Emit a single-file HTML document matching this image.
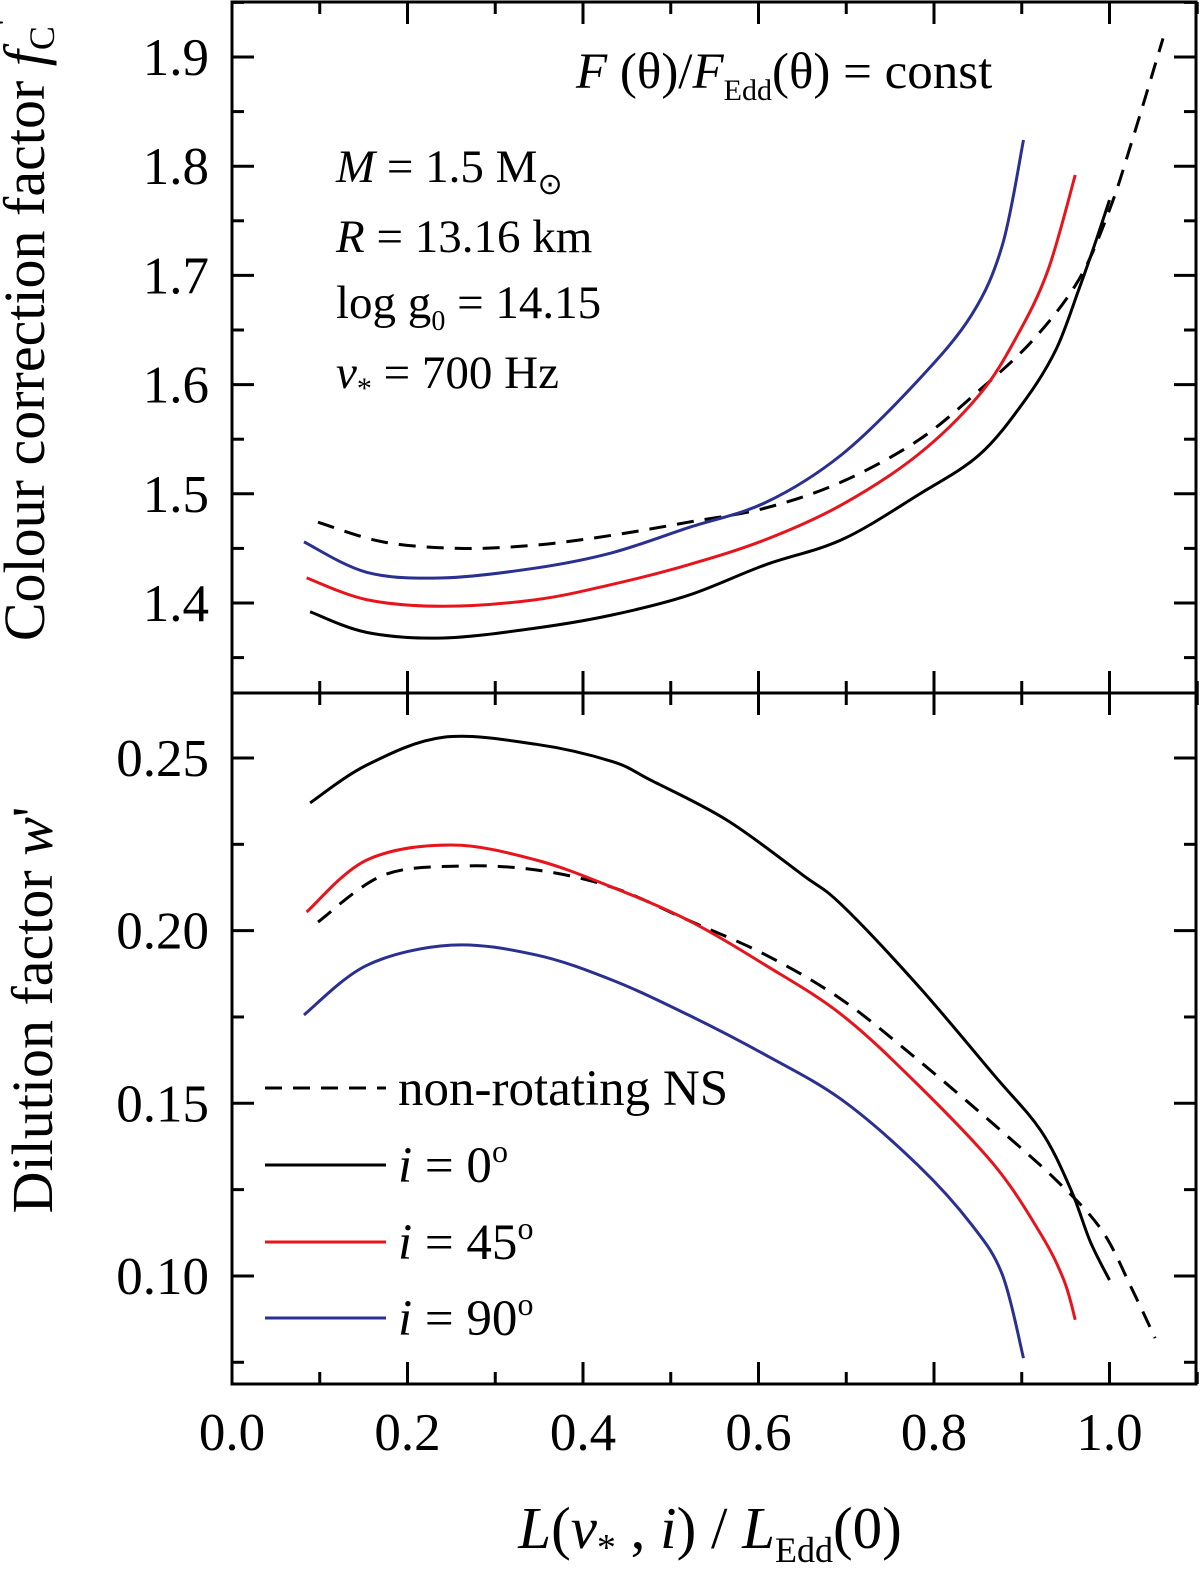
<!DOCTYPE html>
<html><head><meta charset="utf-8"><style>
html,body{margin:0;padding:0;background:#fff;}
svg{display:block;font-family:"Liberation Serif",serif;}
</style></head><body>
<svg id="chart" width="1200" height="1575" viewBox="0 0 1200 1575" xmlns="http://www.w3.org/2000/svg"></svg>
<script>
const xTicks=[0,0.2,0.4,0.6,0.8,1.0];
const xTickLabels=["0.0","0.2","0.4","0.6","0.8","1.0"];
const topTicks=[1.4,1.5,1.6,1.7,1.8,1.9];
const topTickLabels=["1.4","1.5","1.6","1.7","1.8","1.9"];
const botTicks=[0.10,0.15,0.20,0.25];
const botTickLabels=["0.10","0.15","0.20","0.25"];
// top panel series
const fcX0=[0.089,0.154,0.241,0.346,0.433,0.52,0.608,0.695,0.782,0.852,0.904,0.939,0.965,0.983,1.0];
const fcY0=[1.392,1.373,1.368,1.377,1.389,1.407,1.435,1.458,1.499,1.536,1.586,1.632,1.687,1.728,1.769];
const fcX45=[0.085,0.154,0.241,0.346,0.433,0.52,0.608,0.695,0.782,0.852,0.895,0.93,0.961];
const fcY45=[1.423,1.403,1.397,1.403,1.417,1.435,1.458,1.49,1.536,1.591,1.645,1.705,1.792];
const fcX90=[0.082,0.154,0.241,0.346,0.433,0.52,0.608,0.695,0.782,0.843,0.878,0.902];
const fcY90=[1.456,1.428,1.423,1.432,1.446,1.469,1.492,1.536,1.604,1.664,1.728,1.824];
const fcXns=[0.098,0.172,0.259,0.346,0.433,0.52,0.608,0.695,0.782,0.852,0.913,0.965,1.0,1.026,1.061];
const fcYns=[1.474,1.456,1.45,1.453,1.462,1.474,1.487,1.511,1.549,1.595,1.641,1.696,1.76,1.824,1.917];
// bottom panel series
const wX0=[0.089,0.154,0.241,0.346,0.433,0.477,0.564,0.651,0.695,0.782,0.869,0.922,0.956,0.978,1.0];
const wY0=[0.237,0.248,0.256,0.254,0.249,0.2436,0.232,0.216,0.2074,0.184,0.158,0.142,0.125,0.110,0.0988];
const wX45=[0.085,0.154,0.25,0.346,0.433,0.52,0.608,0.695,0.782,0.869,0.922,0.948,0.961];
const wY45=[0.2054,0.2205,0.2248,0.2205,0.2126,0.203,0.190,0.1756,0.1553,0.132,0.112,0.0988,0.0873];
const wX90=[0.082,0.154,0.25,0.346,0.433,0.52,0.608,0.695,0.782,0.843,0.878,0.902];
const wY90=[0.1756,0.190,0.1958,0.193,0.1857,0.1756,0.164,0.151,0.132,0.1148,0.1003,0.0762];
const wXns=[0.098,0.172,0.259,0.346,0.433,0.52,0.608,0.695,0.782,0.869,0.939,0.991,1.026,1.052];
const wYns=[0.2025,0.216,0.2187,0.2176,0.2126,0.203,0.193,0.180,0.1625,0.1437,0.1278,0.1133,0.096,0.082];

const NS="http://www.w3.org/2000/svg";
const svg=document.getElementById('chart');
const L=232,R=1196,T=2,M=693,B=1384;
const sx=v=>232+v*877.5;
const syTop=v=>57+(1.9-v)*1092;
const syBot=v=>758+(0.25-v)*3453;
function mk(tag,attrs,parent){const e=document.createElementNS(NS,tag);for(const k in attrs)e.setAttribute(k,attrs[k]);(parent||svg).appendChild(e);return e;}
function line(x1,y1,x2,y2,name){const e=mk('line',{x1,y1,x2,y2,stroke:'#000','stroke-width':3});

return e;}
function text(x,y,str,size,anchor,name){const e=mk('text',{x,y,'font-size':size,'text-anchor':anchor||'start',fill:'#000'});e.textContent=str;

return e;}
function smoothPath(px,py){let d='M'+px[0]+','+py[0];for(let i=0;i<px.length-1;i++){const x0=px[i-1]??px[i],y0=py[i-1]??py[i],x1=px[i],y1=py[i],x2=px[i+1],y2=py[i+1],x3=px[i+2]??x2,y3=py[i+2]??y2;
d+=' C'+(x1+(x2-x0)/6)+','+(y1+(y2-y0)/6)+' '+(x2-(x3-x1)/6)+','+(y2-(y3-y1)/6)+' '+x2+','+y2;}return d;}
function series(xs,ys,fy,color,dash,name){const px=xs.map(sx),py=ys.map(fy);
const p=mk('path',{d:smoothPath(px,py),fill:'none',stroke:color,'stroke-width':3});if(dash)p.setAttribute('stroke-dasharray','17,11');

}
const fr=mk('rect',{x:L,y:T,width:R-L,height:B-T,fill:'none',stroke:'#000','stroke-width':3});


line(L,M,R,M,'panel-divider');
for(let v=0;v<=1.1001;v+=0.1){const x=sx(v),major=Math.round(v*10)%2===0,len=major?22:12;
line(x,T,x,T+len,'top-x-tick');line(x,M-len,x,M+len,'mid-x-tick');line(x,B,x,B-len,'bottom-x-tick');}
xTicks.forEach((v,i)=>text(sx(v),1450,xTickLabels[i],53,'middle','x-tick-label'));
for(let v=1.35;v<=1.951;v+=0.05){const y=syTop(v);if(y<T||y>M)continue;const major=Math.round(v*100)%10===0,len=major?22:12;
line(L,y,L+len,y,'top-y-tick');line(R,y,R-len,y,'top-y-tick-right');}
topTicks.forEach((v,i)=>text(209,syTop(v)+18,topTickLabels[i],53,'end','top-y-tick-label'));
for(let v=0.075;v<=0.2701;v+=0.025){const y=syBot(v);if(y<M||y>B)continue;const major=Math.round(v*1000)%50===0,len=major?22:12;
line(L,y,L+len,y,'bottom-y-tick');line(R,y,R-len,y,'bottom-y-tick-right');}
botTicks.forEach((v,i)=>text(209,syBot(v)+18,botTickLabels[i],53,'end','bottom-y-tick-label'));
series(fcXns,fcYns,syTop,'#000',true,'fc-nonrotating-line');
series(fcX0,fcY0,syTop,'#000',false,'fc-i0-line');
series(fcX45,fcY45,syTop,'#e8141c',false,'fc-i45-line');
series(fcX90,fcY90,syTop,'#2a3090',false,'fc-i90-line');
series(wXns,wYns,syBot,'#000',true,'w-nonrotating-line');
series(wX0,wY0,syBot,'#000',false,'w-i0-line');
series(wX45,wY45,syBot,'#e8141c',false,'w-i45-line');
series(wX90,wY90,syBot,'#2a3090',false,'w-i90-line');
</script>
<svg style="position:absolute;left:0;top:0" width="1200" height="1575" font-family="Liberation Serif, serif">
<g transform="translate(44,330) rotate(-90)"><text x="0" y="0" font-size="58" text-anchor="middle">Colour correction factor <tspan font-style="italic">f</tspan><tspan font-size="36" dy="10">C</tspan><tspan dy="-34" font-size="40">'</tspan></text></g>
<g transform="translate(52,1010) rotate(-90)"><text x="0" y="0" font-size="58" text-anchor="middle">Dilution factor <tspan font-style="italic">w</tspan>'</text></g>
<text x="710" y="1548" font-size="59" text-anchor="middle"><tspan font-style="italic">L</tspan>(<tspan font-style="italic">ν</tspan><tspan font-size="38" dy="12">*</tspan><tspan dy="-12"> , </tspan><tspan font-style="italic">i</tspan>) / <tspan font-style="italic">L</tspan><tspan font-size="36" dy="14">Edd</tspan><tspan dy="-14">(0)</tspan></text>
<text x="576" y="88" font-size="51"><tspan font-style="italic">F</tspan> (θ)/<tspan font-style="italic">F</tspan><tspan font-size="30" dy="12">Edd</tspan><tspan dy="-12">(θ) = const</tspan></text>
<text x="336" y="182" font-size="47"><tspan font-style="italic">M</tspan> = 1.5 M<tspan font-size="30" dy="12">⊙</tspan></text>
<text x="336" y="252" font-size="47"><tspan font-style="italic">R</tspan> = 13.16 km</text>
<text x="336" y="318" font-size="47">log g<tspan font-size="28" dy="12">0</tspan><tspan dy="-12"> = 14.15</tspan></text>
<text x="336" y="388" font-size="47"><tspan font-style="italic">ν</tspan><tspan font-size="30" dy="10">*</tspan><tspan dy="-10"> = 700 Hz</tspan></text>
<g font-size="51">
<line x1="265" y1="1088" x2="386" y2="1088" stroke="#000" stroke-width="3" stroke-dasharray="17,11"/>
<text x="398" y="1105">non-rotating NS</text>
<line x1="265" y1="1165" x2="386" y2="1165" stroke="#000" stroke-width="3"/>
<text x="398" y="1182"><tspan font-style="italic">i</tspan> = 0<tspan font-size="32" dy="-20">o</tspan></text>
<line x1="265" y1="1242" x2="386" y2="1242" stroke="#e8141c" stroke-width="3"/>
<text x="398" y="1259"><tspan font-style="italic">i</tspan> = 45<tspan font-size="32" dy="-20">o</tspan></text>
<line x1="265" y1="1318" x2="386" y2="1318" stroke="#2a3090" stroke-width="3"/>
<text x="398" y="1335"><tspan font-style="italic">i</tspan> = 90<tspan font-size="32" dy="-20">o</tspan></text>
</g>
</svg>
</body></html>
